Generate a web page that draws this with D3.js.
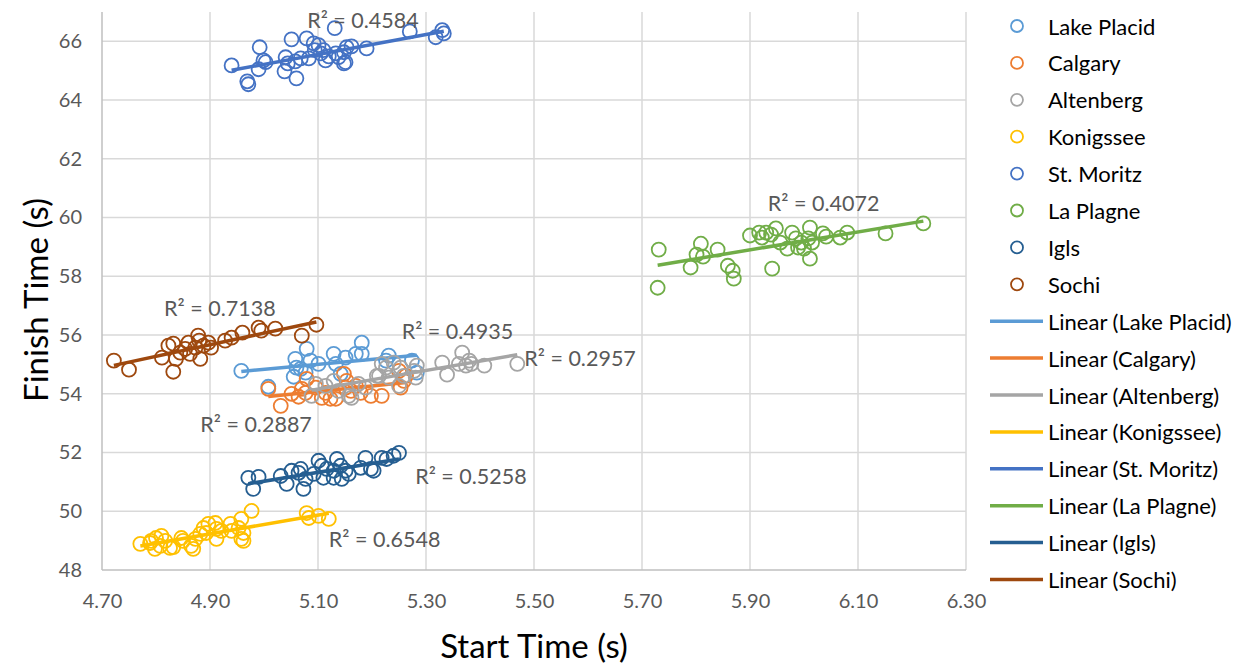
<!DOCTYPE html>
<html>
<head>
<meta charset="utf-8">
<script src="https://cdn.jsdelivr.net/npm/d3@7"></script>
<style>
  html, body { margin: 0; padding: 0; background: #fff; }
  svg { display: block; font-family: Lato, "Open Sans", sans-serif; }
</style>
</head>
<body>
<svg id="chart" width="1245" height="668"></svg>
<script>
// Start time vs finish time per track, with linear trendlines
const seriesNames = ["Lake Placid", "Calgary", "Altenberg", "Konigssee", "St. Moritz", "La Plagne", "Igls", "Sochi"];
const seriesColors = ["#5B9BD5", "#ED7D31", "#A5A5A5", "#FFC000", "#4472C4", "#70AD47", "#255E91", "#9E480E"];
const rSquared = ["0.4935", "0.2887", "0.2957", "0.6548", "0.4584", "0.4072", "0.5258", "0.7138"];

const lakePlacid = [
  [4.958, 54.78], [5.008, 54.24], [5.058, 55.19], [5.060, 54.89], [5.055, 54.58], [5.079, 55.53],
  [5.068, 54.85], [5.077, 54.72], [5.086, 55.13], [5.101, 55.02], [5.129, 55.36], [5.133, 55.02],
  [5.142, 54.68], [5.151, 55.23], [5.170, 55.36], [5.181, 55.74], [5.181, 55.36], [5.226, 55.13],
  [5.231, 55.30], [5.274, 55.13], [5.283, 54.72]
];
const calgary = [
  [5.008, 54.17], [5.031, 53.59], [5.051, 54.00], [5.064, 53.90], [5.070, 54.17], [5.079, 54.51],
  [5.077, 54.03], [5.096, 54.21], [5.107, 53.86], [5.114, 54.03], [5.123, 53.83], [5.133, 53.83],
  [5.148, 54.68], [5.153, 54.44], [5.151, 54.21], [5.161, 54.10], [5.170, 54.27], [5.179, 54.03],
  [5.198, 53.93], [5.218, 53.93], [5.250, 54.78], [5.253, 54.21], [5.259, 54.44], [5.263, 54.61]
];
const altenberg = [
  [5.088, 53.93], [5.096, 54.34], [5.114, 54.27], [5.129, 54.44], [5.138, 54.10], [5.157, 53.93],
  [5.162, 53.86], [5.175, 54.34], [5.188, 54.21], [5.209, 54.61], [5.213, 54.61], [5.218, 55.02],
  [5.226, 54.89], [5.231, 54.55], [5.240, 55.06], [5.250, 54.27], [5.253, 54.89], [5.259, 54.61],
  [5.278, 54.78], [5.281, 54.55], [5.283, 54.96], [5.330, 55.06], [5.339, 54.65], [5.361, 55.02],
  [5.367, 55.40], [5.374, 54.96], [5.380, 55.13], [5.384, 55.02], [5.408, 54.96], [5.469, 55.02]
];
const konigssee = [
  [4.771, 48.89], [4.789, 48.92], [4.791, 48.99], [4.798, 48.72], [4.800, 49.09], [4.808, 48.82],
  [4.810, 49.16], [4.817, 48.99], [4.826, 48.75], [4.832, 48.78], [4.847, 49.09], [4.850, 48.99],
  [4.865, 48.82], [4.869, 48.72], [4.873, 49.06], [4.882, 49.23], [4.888, 49.43], [4.893, 49.26],
  [4.897, 49.57], [4.910, 49.60], [4.912, 49.40], [4.912, 49.06], [4.921, 49.33], [4.938, 49.57],
  [4.940, 49.33], [4.953, 49.43], [4.958, 49.74], [4.958, 49.06], [4.962, 49.26], [4.962, 48.99],
  [4.977, 50.01], [5.079, 49.94], [5.083, 49.77], [5.101, 49.84], [5.120, 49.74]
];
const stMoritz = [
  [4.940, 65.18], [4.969, 64.64], [4.971, 64.54], [4.992, 65.80], [4.999, 65.35], [5.003, 65.29],
  [4.990, 65.05], [5.040, 65.46], [5.044, 65.25], [5.038, 64.98], [5.051, 66.07], [5.060, 64.74],
  [5.058, 65.32], [5.068, 65.42], [5.079, 66.10], [5.083, 65.42], [5.092, 65.93], [5.094, 65.70],
  [5.101, 65.87], [5.105, 65.59], [5.114, 65.35], [5.110, 65.70], [5.120, 65.49], [5.131, 66.45],
  [5.133, 65.59], [5.138, 65.46], [5.148, 65.63], [5.151, 65.29], [5.153, 65.80], [5.162, 65.83],
  [5.148, 65.25], [5.190, 65.76], [5.270, 66.34], [5.318, 66.14], [5.330, 66.38], [5.333, 66.27]
];
const laPlagne = [
  [5.731, 58.91], [5.729, 57.61], [5.790, 58.30], [5.801, 58.74], [5.809, 59.11], [5.813, 58.67],
  [5.840, 58.91], [5.859, 58.36], [5.868, 58.19], [5.870, 57.92], [5.900, 59.39], [5.917, 59.49],
  [5.922, 59.32], [5.930, 59.49], [5.939, 59.42], [5.948, 59.63], [5.941, 58.26], [5.956, 59.15],
  [5.969, 58.94], [5.978, 59.49], [5.985, 59.29], [5.989, 58.98], [5.995, 59.15], [6.000, 58.94],
  [6.008, 59.29], [6.011, 59.66], [6.011, 58.60], [6.015, 59.15], [6.035, 59.46], [6.041, 59.35],
  [6.067, 59.32], [6.080, 59.49], [6.151, 59.46], [6.221, 59.80]
];
const igls = [
  [4.971, 51.14], [4.990, 51.17], [4.980, 50.76], [5.031, 51.20], [5.042, 50.93], [5.051, 51.38],
  [5.064, 51.31], [5.068, 51.44], [5.073, 50.76], [5.077, 51.10], [5.092, 51.27], [5.101, 51.72],
  [5.107, 51.55], [5.110, 51.14], [5.116, 51.44], [5.129, 51.38], [5.129, 51.14], [5.135, 51.78],
  [5.142, 51.55], [5.144, 51.10], [5.151, 51.38], [5.157, 51.27], [5.179, 51.48], [5.188, 51.82],
  [5.198, 51.44], [5.203, 51.38], [5.218, 51.82], [5.227, 51.78], [5.240, 51.89], [5.250, 51.99]
];
const sochi = [
  [4.722, 55.13], [4.750, 54.82], [4.811, 55.23], [4.823, 55.64], [4.832, 55.71], [4.832, 54.75],
  [4.837, 55.19], [4.845, 55.40], [4.854, 55.53], [4.860, 55.74], [4.863, 55.36], [4.873, 55.57],
  [4.878, 55.98], [4.880, 55.81], [4.882, 55.19], [4.888, 55.64], [4.897, 55.74], [4.902, 55.57],
  [4.928, 55.81], [4.940, 55.91], [4.960, 56.08], [4.990, 56.25], [4.995, 56.15], [5.021, 56.22],
  [5.070, 55.98], [5.097, 56.35]
];
const seriesData = [lakePlacid, calgary, altenberg, konigssee, stMoritz, laPlagne, igls, sochi];

const xTicks = [4.70, 4.90, 5.10, 5.30, 5.50, 5.70, 5.90, 6.10, 6.30];
const yTicks = [48, 50, 52, 54, 56, 58, 60, 62, 64, 66];

// Where each R² annotation sits (left edge, vertical centre), in data units
const r2Anchor = [
  [5.255, 56.15], [4.882, 52.98], [5.482, 55.23], [5.120, 49.06],
  [5.080, 66.72], [5.933, 60.48], [5.280, 51.20], [4.815, 56.93]
];

const svg = d3.select("#chart");
const plot = { left: 102, right: 966, top: 12, bottom: 570 };

const x = d3.scaleLinear().domain([4.7, 6.3]).range([plot.left, plot.right]);
const y = d3.scaleLinear().domain([48, 67]).range([plot.bottom, plot.top]);

// Gridlines
const grid = svg.append("g");
grid.selectAll("line.h").data(yTicks.filter(t => t > 48)).join("line")
  .attr("x1", plot.left).attr("x2", plot.right)
  .attr("y1", d => y(d)).attr("y2", d => y(d))
  .attr("stroke", "#d9d9d9").attr("stroke-width", 1.5);
grid.selectAll("line.v").data(xTicks.filter(t => t > 4.7)).join("line")
  .attr("x1", d => x(d)).attr("x2", d => x(d))
  .attr("y1", plot.top).attr("y2", plot.bottom)
  .attr("stroke", "#d9d9d9").attr("stroke-width", 1.5);

// Axes
const xAxis = svg.append("g").attr("transform", `translate(0,${plot.bottom})`)
  .call(d3.axisBottom(x).tickValues(xTicks).tickFormat(d3.format(".2f")).tickSize(0).tickPadding(24));
const yAxis = svg.append("g").attr("transform", `translate(${plot.left},0)`)
  .call(d3.axisLeft(y).tickValues(yTicks).tickFormat(d3.format("d")).tickSize(0).tickPadding(20));
[xAxis, yAxis].forEach(a => {
  a.select(".domain").attr("stroke", "#bfbfbf").attr("stroke-width", 1.5);
  a.selectAll("text").attr("fill", "#595959").style("font-size", "20px").style("font-family", "Lato, sans-serif");
});
yAxis.select(".domain").attr("d", `M0,${plot.top}V${plot.bottom}`);
xAxis.select(".domain").attr("d", `M${plot.left},0H${plot.right}`);

// Least-squares fit for a trendline
function fit(pts) {
  const mx = d3.mean(pts, p => p[0]), my = d3.mean(pts, p => p[1]);
  let sxy = 0, sxx = 0;
  pts.forEach(p => { sxy += (p[0] - mx) * (p[1] - my); sxx += (p[0] - mx) ** 2; });
  const b = sxy / sxx, a = my - b * mx;
  return xv => a + b * xv;
}

// Markers and trendlines
seriesData.forEach((pts, i) => {
  const g = svg.append("g");
  g.selectAll("circle").data(pts).join("circle")
    .attr("cx", d => x(d[0])).attr("cy", d => y(d[1])).attr("r", 7)
    .attr("fill", "none").attr("stroke", seriesColors[i]).attr("stroke-width", 1.8);
  const f = fit(pts);
  const [x0, x1] = d3.extent(pts, p => p[0]);
  g.append("line")
    .attr("x1", x(x0)).attr("y1", y(f(x0)))
    .attr("x2", x(x1)).attr("y2", y(f(x1)))
    .attr("stroke", seriesColors[i]).attr("stroke-width", 3.5);
});

// R² annotations
svg.append("g").selectAll("text").data(rSquared).join("text")
  .attr("x", (d, i) => x(r2Anchor[i][0]))
  .attr("y", (d, i) => y(r2Anchor[i][1]))
  .attr("dominant-baseline", "central")
  .attr("fill", "#595959").style("font-size", "21.5px")
  .text(d => `R² = ${d}`);

// Axis titles
svg.append("text").attr("x", (plot.left + plot.right) / 2).attr("y", 645)
  .attr("text-anchor", "middle").attr("dominant-baseline", "central")
  .style("font-size", "33px").attr("fill", "#000").text("Start Time (s)");
svg.append("text").attr("transform", "translate(35,300) rotate(-90)")
  .attr("text-anchor", "middle").attr("dominant-baseline", "central")
  .style("font-size", "33px").attr("fill", "#000").text("Finish Time (s)");

// Legend
const legend = svg.append("g");
const rowY = i => 26 + i * 36.9;
seriesNames.forEach((name, i) => {
  legend.append("circle").attr("cx", 1017).attr("cy", rowY(i)).attr("r", 6)
    .attr("fill", "none").attr("stroke", seriesColors[i]).attr("stroke-width", 1.8);
  legend.append("text").attr("x", 1048).attr("y", rowY(i)).attr("dominant-baseline", "central")
    .style("font-size", "22px").attr("fill", "#000").text(name);
});
seriesNames.forEach((name, i) => {
  const yy = rowY(i + 8);
  legend.append("line").attr("x1", 990).attr("x2", 1043).attr("y1", yy).attr("y2", yy)
    .attr("stroke", seriesColors[i]).attr("stroke-width", 3.5);
  legend.append("text").attr("x", 1048).attr("y", yy).attr("dominant-baseline", "central")
    .style("font-size", "22px").attr("fill", "#000").text(`Linear (${name})`);
});
</script>
</body>
</html>
